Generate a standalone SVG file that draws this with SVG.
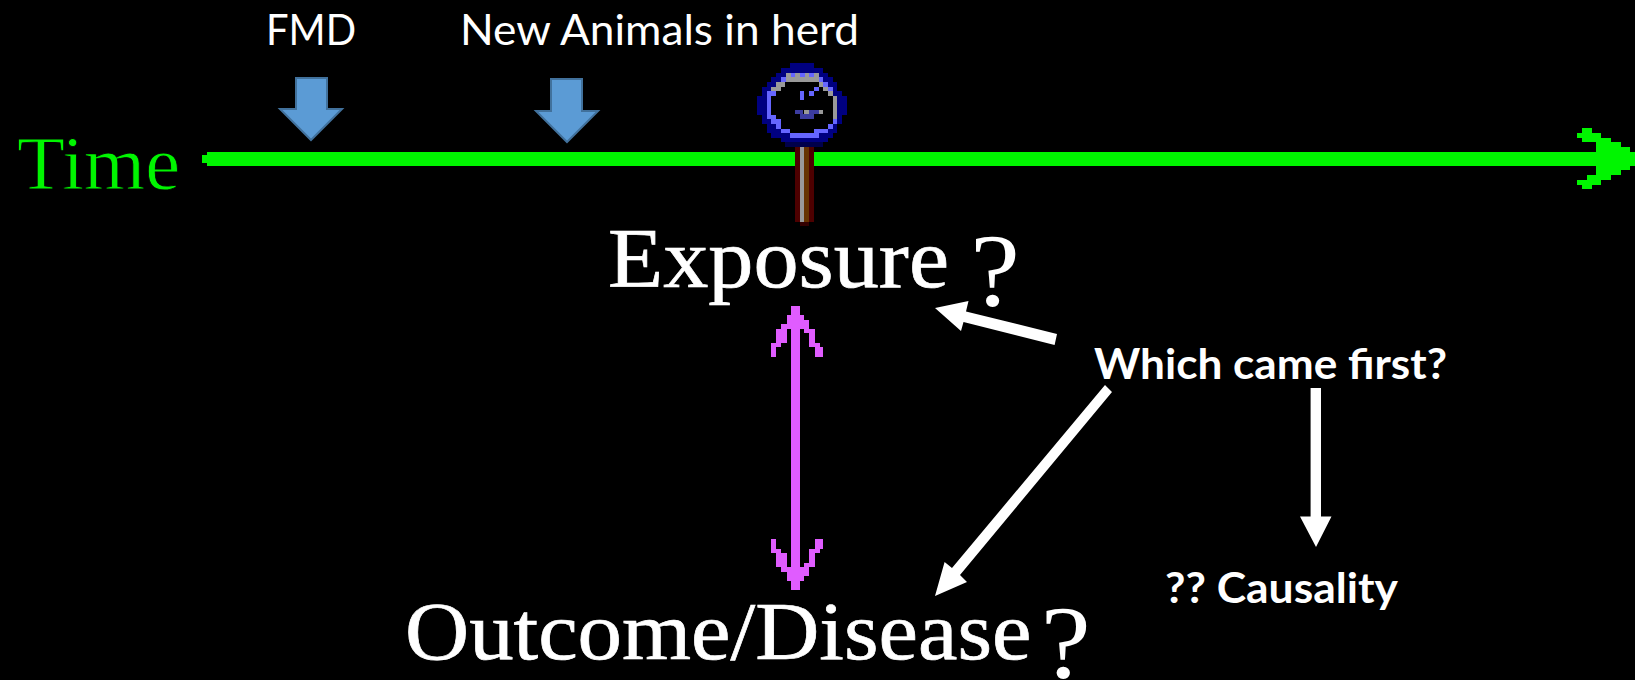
<svg xmlns="http://www.w3.org/2000/svg" width="1635" height="680" viewBox="0 0 1635 680">
<style>
.cal{font-family:Lato,"Open Sans",sans-serif;fill:#fff}
.ser{font-family:"Liberation Serif",serif;fill:#fff;stroke:#fff;stroke-width:.7}
.pix{shape-rendering:crispEdges}
.blue{fill:#5b9bd5;stroke:#41719c;stroke-width:2}
.wht{fill:#fff}
</style>
<rect width="1635" height="680" fill="#000"/>
<g id="connectors">
<polygon id="timeline" class="pix" fill="#00f500" points="202,155 207,155 207,152 1596,152 1596,142 1582,142 1582,138 1577,138 1577,133 1582,133 1582,128 1592,128 1592,133 1601,133 1601,138 1611,138 1611,142 1621,142 1621,147 1630,147 1630,152 1635,152 1635,166 1630,166 1630,170 1621,170 1621,175 1611,175 1611,180 1601,180 1601,185 1592,185 1592,189 1582,189 1582,185 1577,185 1577,180 1587,180 1587,175 1596,175 1596,166 207,166 207,163 202,163"/>
<polygon id="double-arrow" class="pix" fill="#e05cff" points="790.5,306 800,306 800,315 804,315 804,320 809,320 809,329 814.5,329 814.5,343 820,343 820,347 823,347 823,357 814.5,357 814.5,347 809,347 809,333 804,333 804,329 800,329 800,567 804,567 804,563 809,563 809,549 814.5,549 814.5,539 823,539 823,549 820,549 820,553 814.5,553 814.5,567 809,567 809,576 804,576 804,581 800,581 800,590 790.5,590 790.5,581 787,581 787,572 781,572 781,567 776,567 776,553 771,553 771,539 776,539 776,549 781,549 781,553 787,553 787,567 790.5,567 790.5,329 787,329 787,343 781,343 781,347 776,347 776,357 771,357 771,343 776,343 776,329 781,329 781,324 787,324 787,315 790.5,315"/>
<polygon id="to-exposure" class="wht" points="935,308 968.5,301 966,311.5 1057,334 1054.6,345 963.5,322 961,331"/>
<polygon id="to-outcome" class="wht" points="935,596 944.6,562 952,568 1105,385 1112,392 960,575 967,582"/>
<polygon id="to-causality" class="wht" points="1310.6,388 1321,388 1321,516.5 1331.5,516.5 1316,547 1300,516.5 1310.6,516.5"/>
</g>
<g id="time-label"><text x="17" y="189" font-family="Liberation Serif, serif" font-size="76" fill="#00f500" stroke="#000" stroke-width=".8" textLength="163" lengthAdjust="spacingAndGlyphs">Time</text></g>
<g id="fmd">
<text class="cal" x="266" y="45" font-size="43" textLength="90" lengthAdjust="spacingAndGlyphs">FMD</text>
<polygon class="blue" points="296,78 327,78 327,109 342,109 311,140 280,109 296,109"/>
</g>
<g id="new-animals">
<text class="cal" x="460" y="45" font-size="43" textLength="399" lengthAdjust="spacingAndGlyphs">New Animals in herd</text>
<polygon class="blue" points="551,79 582,79 582,111 598,111 567,142 536,111 551,111"/>
</g>
<g id="pin" class="pix" transform="translate(720 50) scale(.33333)">
<path fill="#000080" d="M210 40H282V54H310V68H324V82H338V96H352V124H366V138H380V194H366V222H352V250H338V264H324V276H182V264H154V250H140V222H126V194H112V138H126V110H140V96H154V82H168V68H182V54H210Z"/>
<path fill="#00004a" d="M196 276H310V290H196Z"/>
<path fill="#6666ff" d="M210 68H282V82H310V96H324V110H338V138H352V208H352V222H338V236H324V250H296V264H210V250H182V236H168V222H154V208H140V124H154V110H168V96H182V82H210Z"/>
<path fill="#000" d="M210 96H296V110H310V124H324V138H338V208H338V222H324V236H282V250H210V236H182V208H168V194H154V138H168V124H182V110H196V96Z"/>
<path fill="#999" d="M198 68H212V68H296V96H198ZM168 96H196V110H182V124H154V110H168ZM296 96H310V110H296ZM310 110H324V124H338V138H324V124H310ZM338 138H352V208H338Z"/>
<path fill="#6666ff" d="M212 68H226V82H212ZM240 68H254V82H240ZM268 68H282V82H268ZM240 124H252V150H240ZM268 124H282V138H268ZM282 110H296V124H282Z"/>
<path fill="#3c3ca0" d="M226 180H250V192H226ZM268 180H296V192H268ZM240 192H282V206H240Z"/>
<path fill="#999" d="M252 180H268V192H252ZM296 180H310V192H296Z"/>
<path fill="#4d0000" d="M225 290H240V516H225ZM267 290H282V516H267Z"/>
<path fill="#999" d="M240 290H252V516H240Z"/>
<path fill="#663300" d="M252 290H267V516H252Z"/>
<path fill="#330000" d="M240 516H267V528H240Z"/>
</g>
<g id="exposure"><text class="ser" transform="translate(608 287) scale(1.075 1)" x="0" y="0" font-size="84">Exposure <tspan x="337" dy="19" font-size="104" stroke="none">?</tspan></text></g>
<g id="outcome"><text class="ser" transform="translate(405 659) scale(1.083 1)" x="0" y="0" font-size="82">Outcome/Disease <tspan x="587" dy="19" font-size="104" stroke="none">?</tspan></text></g>
<g id="which"><text class="cal" x="1094" y="379" font-size="42" font-weight="700" textLength="353" lengthAdjust="spacingAndGlyphs">Which came first?</text></g>
<g id="causality"><text class="cal" x="1165" y="603" font-size="42" font-weight="700" textLength="233" lengthAdjust="spacingAndGlyphs">?? Causality</text></g>
</svg>
